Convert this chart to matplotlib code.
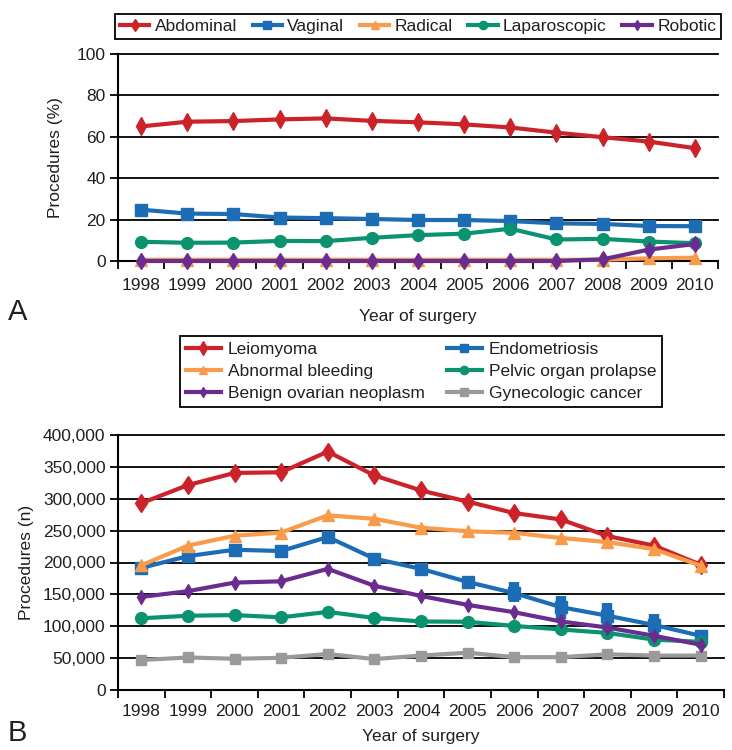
import matplotlib
matplotlib.use("Agg")
import matplotlib.pyplot as plt
from matplotlib.ticker import FuncFormatter, MultipleLocator

years = [str(y) for y in range(1998, 2011)]

# panel A: route of hysterectomy (% of procedures)
abdominal = [65.0, 67.3, 67.6, 68.4, 68.9, 67.7, 67.0, 66.0, 64.5, 62.0, 59.8, 57.7, 54.5]
vaginal = [24.8, 22.9, 22.7, 21.0, 20.7, 20.3, 19.8, 19.8, 19.3, 18.2, 17.9, 16.9, 16.8]
radical = [0.6, 0.6, 0.6, 0.6, 0.6, 0.6, 0.6, 0.6, 0.6, 0.6, 0.6, 1.3, 1.6]
laparoscopic = [9.3, 8.8, 8.9, 9.7, 9.6, 11.2, 12.5, 13.2, 15.6, 10.4, 10.7, 9.4, 8.6]
robotic = [0.0, 0.0, 0.0, 0.0, 0.0, 0.0, 0.0, 0.0, 0.0, 0.0, 0.8, 5.5, 8.2]

# panel B: indication (number of procedures)
leiomyoma = [293000, 321500, 340500, 341500, 374000, 336500, 313000, 295500, 277500, 267500, 241500, 226500, 196500]
abnormal_bleeding = [195500, 226500, 242000, 247000, 274000, 268500, 254500, 249000, 246500, 238500, 232000, 221000, 195000]
endometriosis = [191500, 210000, 220000, 218000, 240000, 206000, 190000, 169500, 152000, 130000, 116500, 102000, 85000]
benign_ovarian = [146000, 155000, 168500, 170500, 190000, 163500, 147500, 133500, 122000, 107500, 98000, 85000, 71000]
pelvic_prolapse = [112500, 116500, 117500, 114000, 122500, 113000, 107500, 107000, 100500, 95000, 89500, 79000, 75500]
gyn_cancer = [47000, 51000, 49000, 50500, 56500, 48500, 54000, 58500, 51500, 51500, 56000, 54000, 54000]
# endometriosis markers drawn tall in 2006-2009 (low, high)
endo_years = [8, 9, 10, 11]
endo_low = [138000, 111000, 98000, 84000]
endo_high = [170000, 148000, 136000, 119000]

red = "#cc2229"
blue = "#1c6db5"
orange = "#f89b4a"
green = "#0b9370"
purple = "#6a2d8f"
gray = "#9a9a9a"
ink = "#231f20"

plt.rcParams['font.family'] = ['Liberation Sans', 'DejaVu Sans']
plt.rcParams['text.color'] = ink
plt.rcParams['axes.labelcolor'] = ink
plt.rcParams['xtick.color'] = ink
plt.rcParams['ytick.color'] = ink
fs = 12.5

fig = plt.figure(figsize=(7.32, 7.5), dpi=100)
ax1 = fig.add_axes([118/732, 1-261/750, 600/732, 207/750])
ax2 = fig.add_axes([118/732, 1-690/750, 606/732, 255/750])

x = list(range(len(years)))


def style(ax, xpad, lpad):
    ax.set_xlim(-0.5, len(years) - 0.5)
    ax.set_xticks(x)
    ax.set_xticklabels(years, fontsize=fs)
    ax.set_xticks([i - 0.5 for i in range(len(years) + 1)], minor=True)
    ax.tick_params(axis='x', which='major', length=0, pad=xpad)
    ax.tick_params(axis='x', which='minor', length=6, width=1.3, color='black', direction='out')
    ax.tick_params(axis='y', length=6, width=1.3, color='black', labelsize=fs, pad=3)
    for s in ['top', 'right']:
        ax.spines[s].set_visible(False)
    for s in ['left', 'bottom']:
        ax.spines[s].set_linewidth(1.5)
        ax.spines[s].set_color('black')
    ax.yaxis.grid(True, color='black', linewidth=1.3)
    ax.set_axisbelow(True)
    ax.set_xlabel("Year of surgery", fontsize=fs, labelpad=lpad)


lw = 3

# ---- panel A
ax1.plot(x, abdominal, color=red, lw=lw, marker='d', ms=9, label="Abdominal", clip_on=False, zorder=5)
ax1.plot(x, vaginal, color=blue, lw=lw, marker='s', ms=8.5, label="Vaginal", clip_on=False, zorder=4)
ax1.plot(x, radical, color=orange, lw=lw, marker='^', ms=8.5, label="Radical", clip_on=False, zorder=4)
ax1.plot(x, laparoscopic, color=green, lw=lw, marker='o', ms=8.5, label="Laparoscopic", clip_on=False, zorder=4)
ax1.plot(x, robotic, color=purple, lw=lw, marker='d', ms=8, label="Robotic", clip_on=False, zorder=6)
style(ax1, 12, 12)
ax1.set_ylim(0, 100)
ax1.yaxis.set_major_locator(MultipleLocator(20))
ax1.set_ylabel("Procedures (%)", fontsize=fs, labelpad=10)
for gl in ax1.get_ygridlines():
    gl.set_clip_on(False)
leg1 = ax1.legend(loc='lower center', bbox_to_anchor=(0.5, 1.072), ncol=5, fontsize=fs,
                  frameon=True, fancybox=False, edgecolor='black', framealpha=1,
                  borderaxespad=0, handlelength=1.7, handletextpad=0.3, columnspacing=0.9,
                  borderpad=0.3, markerscale=0.7)
leg1.get_frame().set_linewidth(1.3)

# ---- panel B
ax2.plot(x, leiomyoma, color=red, lw=lw, marker='d', ms=9.5, label="Leiomyoma", clip_on=False, zorder=5)
ax2.plot(x, abnormal_bleeding, color=orange, lw=lw, marker='^', ms=8.5, label="Abnormal bleeding", clip_on=False, zorder=5)
ax2.plot(x, benign_ovarian, color=purple, lw=lw, marker='d', ms=7, label="Benign ovarian neoplasm", clip_on=False, zorder=5)
ax2.plot(x, endometriosis, color=blue, lw=lw, marker='s', ms=8, label="Endometriosis", clip_on=False, zorder=4)
ax2.vlines(endo_years, endo_low, endo_high, color=blue, lw=7.5, zorder=4)
ax2.plot(x, pelvic_prolapse, color=green, lw=lw, marker='o', ms=8.5, label="Pelvic organ prolapse", clip_on=False, zorder=4)
ax2.plot(x, gyn_cancer, color=gray, lw=lw, marker='s', ms=7.5, label="Gynecologic cancer", clip_on=False, zorder=4)
style(ax2, 10, 7)
ax2.set_ylim(0, 400000)
ax2.yaxis.set_major_locator(MultipleLocator(50000))
ax2.yaxis.set_major_formatter(FuncFormatter(lambda v, p: f"{int(v):,}"))
ax2.set_ylabel("Procedures (n)", fontsize=fs, labelpad=6)
for gl in ax2.get_ygridlines():
    gl.set_clip_on(False)
leg2 = ax2.legend(loc='lower center', bbox_to_anchor=(0.5, 1.11), ncol=2, fontsize=fs,
                  frameon=True, fancybox=False, edgecolor='black', framealpha=1,
                  borderaxespad=0, handlelength=2.0, handletextpad=0.4, columnspacing=1.3,
                  borderpad=0.35, labelspacing=0.38, markerscale=0.7)
leg2.get_frame().set_linewidth(1.3)

fig.text(8/732, 1-312/750, "A", fontsize=21, va='center', ha='left')
fig.text(8/732, 1-733/750, "B", fontsize=21, va='center', ha='left')

plt.savefig("out.png", dpi=100)
